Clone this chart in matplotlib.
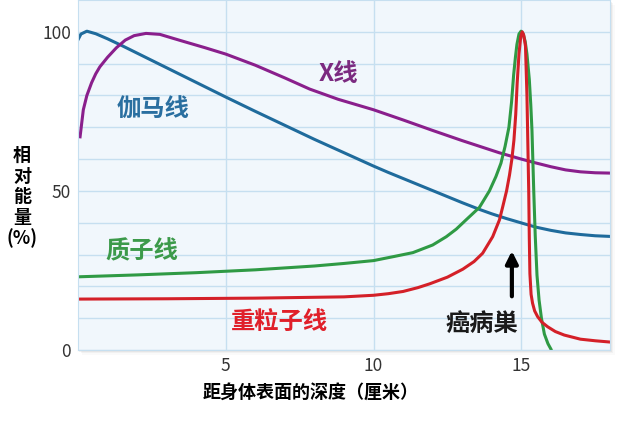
import matplotlib.pyplot as plt
from matplotlib.patches import Rectangle

plt.rcParams['font.family'] = ['Noto Sans CJK SC', 'DejaVu Sans']

# gamma rays
gamma_x = [0, 0.1, 0.3, 0.6, 1, 1.5, 2, 2.5, 3, 3.5, 4, 5, 6, 7, 8, 9, 10, 10.5, 11, 11.5, 12,
           12.5, 13, 13.58, 14, 14.5, 15.16, 15.5, 16, 16.5, 17, 17.5, 18]
gamma_y = [97.5, 99.3, 100.2, 99.4, 97.8, 95.6, 93.3, 91, 88.7, 86.4, 84.1, 79.5, 75, 70.6, 66.2, 62, 57.8, 55.8, 53.9, 52, 50.1,
           48.2, 46.3, 44.2, 42.8, 41.3, 39.5, 38.6, 37.6, 36.8, 36.3, 35.9, 35.7]

# x rays
xray_x = [0.07, 0.18, 0.3, 0.46, 0.6, 0.74, 1, 1.3, 1.6, 1.9, 2.3, 2.77, 3.2, 3.6, 4.3, 5, 6, 7, 7.84,
          8.8, 10, 11, 12, 13, 14.25, 15, 15.4, 16, 16.5, 17, 17.5, 18]
xray_y = [67, 75.5, 80, 84, 86.8, 89, 92, 95, 97.4, 98.8, 99.5, 99.2, 98, 96.9, 95, 93, 89.5, 85.5, 82,
          78.8, 75.5, 72.3, 69, 65.8, 62, 60, 59, 57.6, 56.6, 56, 55.7, 55.6]

# protons
proton_x = [0, 2, 4, 6, 8, 9, 10, 10.7, 11.33, 12, 12.46, 12.8, 13.13, 13.58, 13.92, 14.14, 14.31, 14.45,
            14.58, 14.67, 14.74, 14.8, 14.85, 14.92, 14.99, 15.06, 15.13, 15.19, 15.23, 15.27, 15.32, 15.36,
            15.42, 15.47, 15.53, 15.6, 15.68, 15.78, 15.9, 16.0]
proton_y = [23, 23.6, 24.3, 25.2, 26.4, 27.2, 28.1, 29.4, 30.6, 33, 35.6, 38, 40.9, 44.8, 50, 54.5, 58.7, 64,
            70, 78, 86.5, 92, 96, 99.3, 100.2, 99.4, 97, 93, 89, 85, 77, 69,
            50, 36, 23.5, 15.7, 10, 5, 2, 0.3]

# heavy ions
ion_x = [0, 3, 6, 9, 10, 10.5, 11, 11.5, 11.9, 12.5, 13.02, 13.4, 13.69, 14.03, 14.26, 14.37, 14.5, 14.6,
         14.68, 14.75, 14.81, 14.86, 14.92, 14.98, 15.03, 15.08, 15.14, 15.19, 15.22, 15.25, 15.27, 15.29, 15.33,
         15.38, 15.45, 15.55, 15.7, 15.89, 16.15, 16.45, 17, 17.5, 18]
ion_y = [16, 16.1, 16.3, 16.7, 17.2, 17.7, 18.4, 19.6, 20.8, 22.9, 25.4, 27.8, 30.4, 35.6, 40.9, 45, 50, 55,
         60, 66, 74, 84, 93, 98.5, 100, 99, 95.5, 80, 65, 50, 35, 24, 17.5,
         14.7, 12.3, 10.5, 8.7, 7.3, 5.8, 4.7, 3.4, 2.9, 2.5]

fig = plt.figure(figsize=(6.17, 4.22), dpi=100)
ax = fig.add_axes([78/617, 72/422, 532/617, 350/422])

# soft shadow behind the plot area
for i, a in enumerate([0.10, 0.07, 0.04]):
    d = (i + 1) * 1.5
    fig.patches.append(Rectangle(((78 + d) / 617, (72 - d) / 422), 532/617, 350/422,
                                 transform=fig.transFigure, facecolor='#888888',
                                 alpha=a, edgecolor='none', zorder=-1))

ax.set_facecolor('#f1f7fc')
ax.set_xlim(0, 18)
ax.set_ylim(0, 110)
ax.set_xticks([5, 10, 15])
ax.set_yticks([0, 50, 100])
ax.set_yticks(range(10, 110, 10), minor=True)
ax.grid(True, which='both', color='#c6dff0', lw=1)
ax.tick_params(which='both', length=0)
ax.tick_params(axis='y', pad=5, labelsize=12.5, labelcolor='#333333')
ax.tick_params(axis='x', pad=5, labelsize=12.5, labelcolor='#333333')
ax.set_axisbelow(True)
for s in ax.spines.values():
    s.set_color('#c6dff0')

ax.plot(gamma_x, gamma_y, color='#1f6b9c', lw=2.2)
ax.plot(xray_x, xray_y, color='#8a1f8c', lw=2.2)
ax.plot(proton_x, proton_y, color='#2f9a44', lw=2.2)
ax.plot(ion_x, ion_y, color='#d42028', lw=2.2)

lab = dict(fontsize=17.5, fontweight='bold', ha='center', va='center')
ax.text(2.54, 75.5, '伽马线', color='#2a6fa0', **lab)
ax.text(8.8, 86.8, 'X线', color='#7b2a80', **lab)
ax.text(2.15, 31, '质子线', color='#3c9a4a', **lab)
ax.text(6.8, 8.8, '重粒子线', color='#e0202a', **lab)
ax.text(13.65, 8.2, '癌病巣', color='#1a1a1a', **lab)

ax.annotate('', xy=(14.68, 32), xytext=(14.68, 16),
            arrowprops=dict(arrowstyle='-|>', lw=3, color='black', mutation_scale=18))

fig.text(22/617, 1 - 197/422, '相\n对\n能\n量\n(%)', fontsize=13, fontweight='bold',
         ha='center', va='center', linespacing=1.1)
fig.text(311/617, 1 - 392/422, '距身体表面的深度（厘米）', fontsize=13, fontweight='bold',
         ha='center', va='center')

fig.savefig('out.png', dpi=100)
